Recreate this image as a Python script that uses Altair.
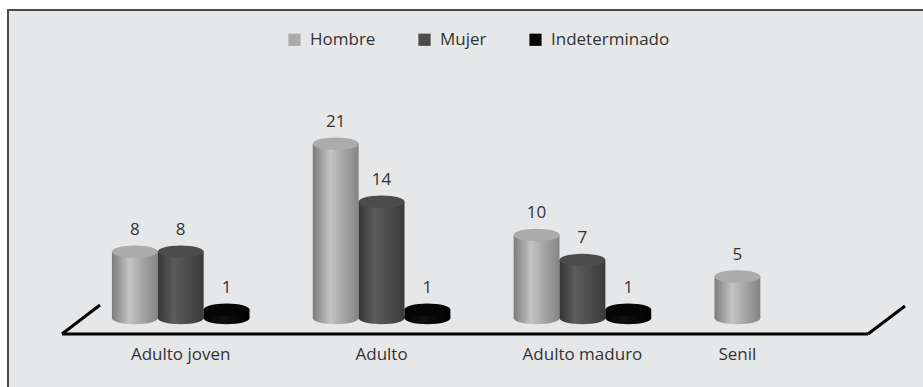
import altair as alt
import pandas as pd

categories = ["Adulto joven", "Adulto", "Adulto maduro", "Senil"]
series = ["Hombre", "Mujer", "Indeterminado"]
hombre = [8, 21, 10, 5]
mujer = [8, 14, 7, 0]
indeterminado = [1, 1, 1, 0]

values = {"Hombre": hombre, "Mujer": mujer, "Indeterminado": indeterminado}
rows = []
for s in series:
    for c, v in zip(categories, values[s]):
        rows.append({"cat": c, "series": s, "value": v, "zero": 0})
df = pd.DataFrame(rows)
df = df[df.value > 0].reset_index(drop=True)

lab_rows = []
for i, c in enumerate(categories):
    present = [s for s in series if values[s][i] > 0]
    lab_rows.append({"cat": c, "anchor": present[(len(present) - 1) // 2]})
lab_df = pd.DataFrame(lab_rows)

FONT = "Open Sans"
TXT = "#333333"
FS = 17

xs = alt.Scale(domain=categories, paddingInner=0.315, paddingOuter=0.159)
xos = alt.Scale(domain=series, paddingInner=0, paddingOuter=0)
ys = alt.Scale(domain=[0, 30], nice=False, zero=True)

ELL = ("M -1,0 C -1,-0.149 -0.552,-0.27 0,-0.27 C 0.552,-0.27 1,-0.149 1,0 "
       "C 1,0.149 0.552,0.27 0,0.27 C -0.552,0.27 -1,0.149 -1,0 Z")
SIZE = 46 * 46


def grad(stops):
    return alt.LinearGradient(
        gradient="linear",
        stops=[alt.GradientStop(color=c, offset=o) for o, c in stops],
        x1=0, x2=1, y1=0, y2=0,
    )


grads = {
    "Hombre": grad([(0, "#7c7c7c"), (0.38, "#c4c4c4"), (0.6, "#acacac"), (1, "#848484")]),
    "Mujer": grad([(0, "#363636"), (0.35, "#5c5c5c"), (0.65, "#4c4c4c"), (1, "#3a3a3a")]),
    "Indeterminado": grad([(0, "#000000"), (0.4, "#111111"), (1, "#000000")]),
}
top_colors = ["#ababab", "#4c4c4c", "#050505"]

base = alt.Chart(df)
X = alt.X("cat:N", scale=xs, axis=None)
XO = alt.XOffset("series:N", scale=xos)

layers = []

# frame decorations (white margin + dark top/left border)
one = alt.Chart(pd.DataFrame({"a": [0]}))
layers.append(one.mark_rule(color="white", strokeWidth=7).encode(
    x=alt.value(-76.5), x2=alt.value(-76.5), y=alt.value(-69), y2=alt.value(320)))
layers.append(one.mark_rule(color="white", strokeWidth=9).encode(
    x=alt.value(-80), x2=alt.value(845), y=alt.value(-64.5), y2=alt.value(-64.5)))
layers.append(one.mark_rule(color="#4a4a4a", strokeWidth=2).encode(
    x=alt.value(-72), x2=alt.value(-72), y=alt.value(-60), y2=alt.value(320)))
layers.append(one.mark_rule(color="#4a4a4a", strokeWidth=2).encode(
    x=alt.value(-73), x2=alt.value(845), y=alt.value(-59), y2=alt.value(-59)))

# floor lines
layers.append(one.mark_rule(color="black", strokeWidth=3).encode(
    x=alt.value(-18), x2=alt.value(788), y=alt.value(265), y2=alt.value(265)))
layers.append(one.mark_rule(color="black", strokeWidth=3).encode(
    x=alt.value(-18), x2=alt.value(20), y=alt.value(265), y2=alt.value(236)))
layers.append(one.mark_rule(color="black", strokeWidth=3).encode(
    x=alt.value(788), x2=alt.value(825), y=alt.value(265), y2=alt.value(237)))

for s in series:
    sub = base.transform_filter(alt.datum.series == s)
    layers.append(sub.mark_point(filled=True, opacity=1, shape=ELL, size=SIZE,
                                 fill=grads[s], strokeWidth=0).encode(
        x=X, xOffset=XO, y=alt.Y("zero:Q", scale=ys, axis=None)))
    layers.append(sub.mark_bar(color=grads[s]).encode(
        x=X, xOffset=XO, y=alt.Y("value:Q", scale=ys, axis=None)))

layers.append(base.mark_point(filled=True, opacity=1, shape=ELL, size=SIZE,
                              strokeWidth=0).encode(
    x=X, xOffset=XO, y=alt.Y("value:Q", scale=ys, axis=None),
    color=alt.Color("series:N", scale=alt.Scale(domain=series, range=top_colors),
                    legend=alt.Legend(title=None, orient="none", legendX=206, legendY=-38,
                                      direction="horizontal", symbolType="square",
                                      symbolSize=150, symbolStrokeWidth=0, symbolOpacity=1,
                                      labelFont=FONT, labelFontSize=FS, labelColor=TXT,
                                      columnPadding=40, labelOffset=7, padding=0)),
))

layers.append(base.mark_text(dy=-17, baseline="alphabetic", font=FONT, fontSize=FS,
                             color=TXT).encode(
    x=X, xOffset=XO, y=alt.Y("value:Q", scale=ys, axis=None), text="value:Q"))

layers.append(alt.Chart(lab_df).mark_text(baseline="alphabetic", font=FONT, fontSize=FS,
                                          color=TXT).encode(
    x=X, xOffset=alt.XOffset("anchor:N", scale=xos), y=alt.value(291), text="cat:N"))

chart = alt.layer(*layers).properties(
    width=804, height=249,
    padding={"left": 80, "top": 69, "right": 39, "bottom": 69},
    autosize="none",
    background="#e6e7e9",
).configure_view(strokeWidth=0)

chart.save("out.html", embed_options={"renderer": "svg", "actions": False})
